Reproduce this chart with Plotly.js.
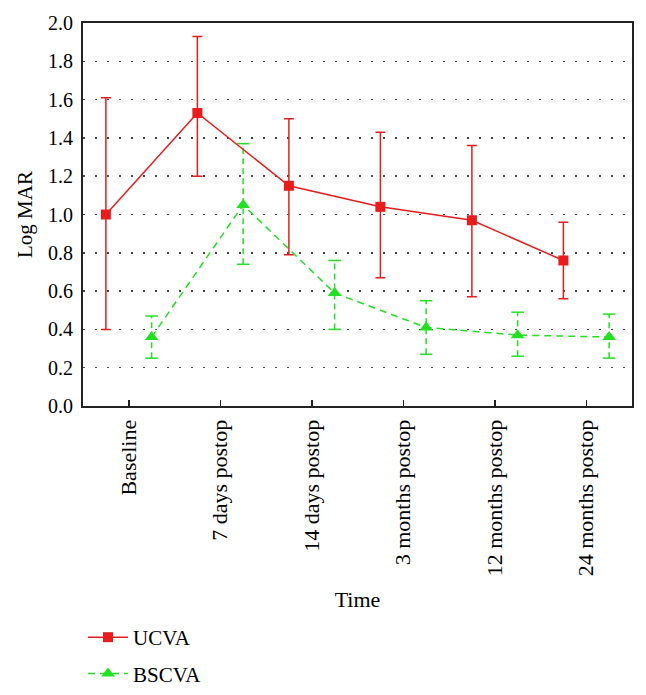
<!DOCTYPE html>
<html>
<head>
<meta charset="utf-8">
<script src="https://cdn.plot.ly/plotly-3.0.1.min.js"></script>
<style>
  html, body { margin: 0; padding: 0; background: #fff; }
  #chart { width: 646px; height: 695px; }
</style>
</head>
<body>
<div id="chart"></div>
<script>
// time points and measured LogMAR values (mean, upper and lower error)
const categories = ['Baseline', '7 days postop', '14 days postop', '3 months postop', '12 months postop', '24 months postop'];

const ucvaMean  = [1.00, 1.53, 1.15, 1.04, 0.97, 0.76];
const ucvaPlus  = [0.61, 0.40, 0.35, 0.39, 0.39, 0.20];
const ucvaMinus = [0.60, 0.33, 0.36, 0.37, 0.40, 0.20];

const bscvaMean  = [0.36, 1.05, 0.59, 0.41, 0.37, 0.36];
const bscvaPlus  = [0.11, 0.32, 0.17, 0.14, 0.12, 0.12];
const bscvaMinus = [0.11, 0.31, 0.19, 0.14, 0.11, 0.11];

const RED = '#e81c1c';
const GREEN = '#22e022';
const FONT = 'Liberation Serif, Times New Roman, serif';

// series sit a quarter step either side of each category tick
const idx = categories.map((_, i) => i);
const ucvaX = idx.map(i => i - 0.25);
const bscvaX = idx.map(i => i + 0.25);

// BSCVA error bars are dashed in the original, so draw them as lines + caps
const bsLo = bscvaMean.map((m, i) => m - bscvaMinus[i]);
const bsHi = bscvaMean.map((m, i) => m + bscvaPlus[i]);

const bsErrLines = {
  x: bscvaX.flatMap(x => [x, x, null]),
  y: bsLo.flatMap((lo, i) => [lo, bsHi[i], null]),
  mode: 'lines',
  line: { color: GREEN, width: 1.5, dash: '6px,4px' },
  showlegend: false,
  hoverinfo: 'skip'
};

const bsErrCaps = {
  x: bscvaX.flatMap(x => [x, x]),
  y: bsLo.flatMap((lo, i) => [lo, bsHi[i]]),
  mode: 'markers',
  marker: { symbol: 'line-ew-open', size: 9, color: GREEN, line: { color: GREEN, width: 1.5 } },
  showlegend: false,
  hoverinfo: 'skip'
};

const ucva = {
  name: 'UCVA',
  x: ucvaX,
  y: ucvaMean,
  mode: 'lines+markers',
  line: { color: RED, width: 1.5 },
  marker: { symbol: 'square', size: 10, color: RED },
  error_y: {
    type: 'data', symmetric: false,
    array: ucvaPlus, arrayminus: ucvaMinus,
    color: RED, thickness: 1.5, width: 5
  },
  legendgroup: 'a'
};

const bscva = {
  name: 'BSCVA',
  x: bscvaX,
  y: bscvaMean,
  mode: 'lines+markers',
  line: { color: GREEN, width: 1.5, dash: '7px,5px' },
  marker: { symbol: 'triangle-up', size: 12, color: GREEN },
  legendgroup: 'b'
};

const layout = {
  width: 646,
  height: 695,
  margin: { l: 83, r: 14, t: 23, b: 289, autoexpand: false },
  paper_bgcolor: '#fff',
  plot_bgcolor: '#fff',
  font: { family: FONT, color: '#000', size: 20 },
  showlegend: true,
  legend: {
    x: 0, xanchor: 'left', y: -0.551, yanchor: 'top',
    font: { family: FONT, size: 21, color: '#000' },
    itemwidth: 40,
    traceorder: 'grouped',
    tracegroupgap: 6,
    bgcolor: 'rgba(0,0,0,0)'
  },
  xaxis: {
    automargin: false,
    range: [-0.5, 5.5],
    tickvals: idx,
    ticktext: categories,
    tickangle: -90,
    tickfont: { family: FONT, size: 22 },
    ticks: 'inside', ticklen: 6, tickwidth: 1.5, tickcolor: '#222',
    ticklabelstandoff: 3,
    showline: true, linecolor: '#222', linewidth: 2, mirror: true,
    showgrid: false, zeroline: false,
    title: { text: 'Time', font: { family: FONT, size: 22 }, standoff: 16 }
  },
  yaxis: {
    automargin: false,
    range: [0, 2.0],
    tickvals: [0, 0.2, 0.4, 0.6, 0.8, 1.0, 1.2, 1.4, 1.6, 1.8, 2.0],
    ticktext: ['0.0', '0.2', '0.4', '0.6', '0.8', '1.0', '1.2', '1.4', '1.6', '1.8', '2.0'],
    tickfont: { family: FONT, size: 20 },
    ticks: '', ticklabelstandoff: 4,
    showline: true, linecolor: '#222', linewidth: 2, mirror: true,
    showgrid: true, gridcolor: '#444', gridwidth: 1.5, griddash: '1.5px,10.5px',
    zeroline: false,
    title: { text: 'Log MAR', font: { family: FONT, size: 21 }, standoff: 10 }
  }
};

Plotly.newPlot('chart', [bsErrLines, bsErrCaps, ucva, bscva], layout, { displayModeBar: false, staticPlot: true });
</script>
</body>
</html>
